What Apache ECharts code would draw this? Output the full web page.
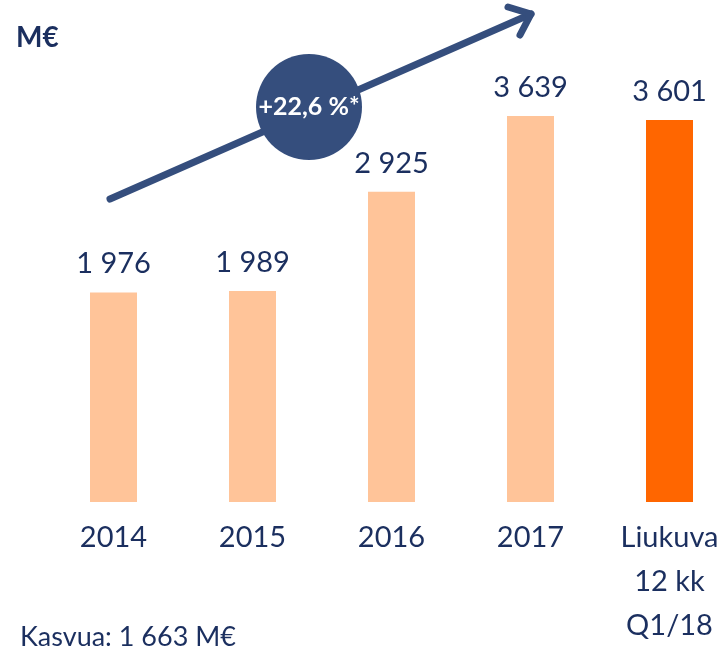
<!DOCTYPE html>
<html>
<head>
<meta charset="utf-8">
<script src="https://cdn.jsdelivr.net/npm/echarts@6/dist/echarts.min.js"></script>
<style>
  html, body { margin: 0; padding: 0; background: #fff; }
  #chart { width: 725px; height: 653px; }
</style>
</head>
<body>
<div id="chart"></div>
<script>
const categories = ['2014', '2015', '2016', '2017', 'Liukuva\n12 kk\nQ1/18'];
const values = [1976, 1989, 2925, 3639, 3601];
const highlight = [false, false, false, false, true];

const navy = '#1b2f5f';
const arrowColor = '#354e7d';
const font = 'Lato';

const chart = echarts.init(document.getElementById('chart'));

const fmt = v => String(v).replace(/\B(?=(\d{3})+(?!\d))/g, ' ');

const option = {
  backgroundColor: '#fff',
  animation: false,
  grid: { left: 44, right: -14, top: 116, height: 386, outerBoundsMode: 'none', containLabel: false },
  xAxis: {
    type: 'category',
    data: categories,
    axisLine: { show: false },
    axisTick: { show: false },
    axisLabel: {
      color: navy,
      fontFamily: font,
      fontSize: 29,
      lineHeight: 44,
      margin: 14,
      verticalAlign: 'top'
    }
  },
  yAxis: {
    type: 'value',
    min: 0,
    max: 3639,
    show: false,
    splitLine: { show: false }
  },
  series: [{
    type: 'bar',
    barWidth: 47,
    data: values.map((v, i) => ({
      value: v,
      itemStyle: { color: highlight[i] ? '#ff6600' : '#ffc499' }
    })),
    label: {
      show: true,
      position: 'top',
      distance: 14,
      color: navy,
      fontFamily: font,
      fontSize: 29,
      formatter: p => fmt(p.value)
    }
  }],
  graphic: [
    {
      type: 'text', left: 16, top: 24,
      style: { text: 'M€', fill: navy, font: 'bold 28px Lato' }
    },
    {
      type: 'text', left: 20, top: 624,
      style: { text: 'Kasvua: 1 663 M€', fill: navy, font: '27px Lato' }
    },
    {
      type: 'line', z: 10,
      shape: { x1: 110, y1: 199, x2: 531, y2: 14 },
      style: { stroke: arrowColor, lineWidth: 7, lineCap: 'round' }
    },
    {
      type: 'polyline', z: 10,
      shape: { points: [[508, 7], [531, 14], [520, 35]] },
      style: { stroke: arrowColor, lineWidth: 7, lineCap: 'round', lineJoin: 'round', fill: null }
    },
    {
      type: 'circle', z: 11,
      shape: { cx: 309, cy: 107, r: 53 },
      style: { fill: arrowColor }
    },
    {
      type: 'text', z: 12,
      x: 309, y: 107,
      style: {
        text: '+22,6 %*', fill: '#fff', font: 'bold 25px Lato',
        align: 'center', verticalAlign: 'middle'
      }
    }
  ]
};

chart.setOption(option);
</script>
</body>
</html>
